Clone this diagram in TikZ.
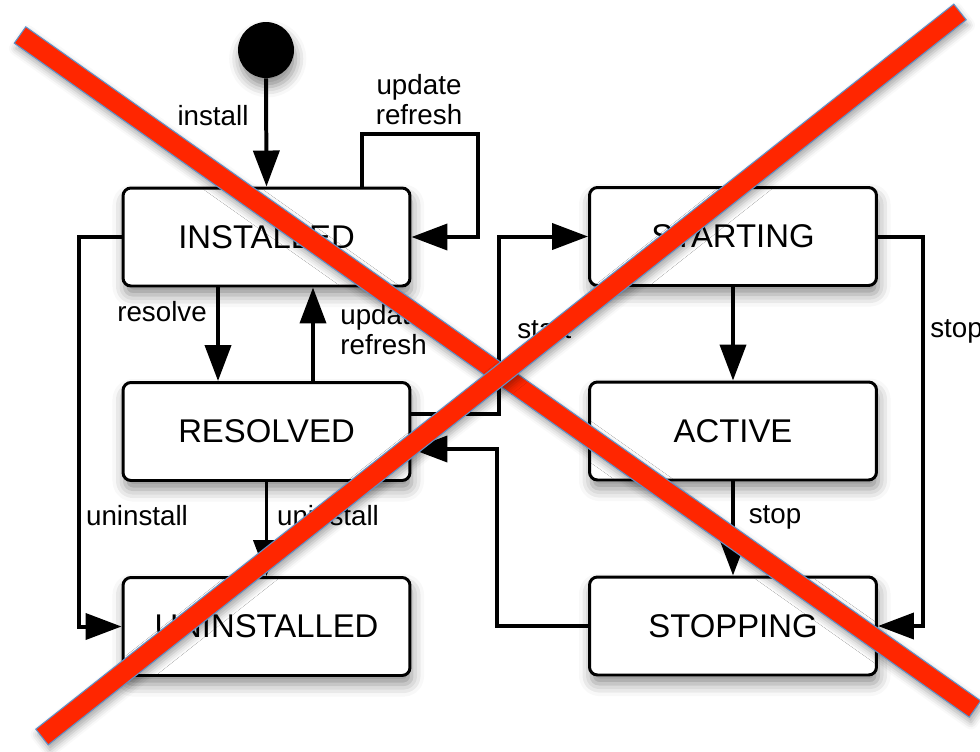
\documentclass[tikz,border=0pt]{standalone}
\usepackage{fontspec}
\setmainfont{Liberation Sans}
\usetikzlibrary{arrows.meta,calc,shadows.blur}
\definecolor{xred}{RGB}{255,38,0}
\definecolor{xblue}{RGB}{95,145,200}
\begin{document}
\begin{tikzpicture}[x=0.02cm,y=-0.02cm,
  state/.style={draw=black,line width=1.7pt,rounded corners=4.5pt,fill=white,
    minimum width=5.74cm,minimum height=1.96cm,inner sep=0pt,
    font=\fontsize{18.7}{22}\selectfont,
    blur shadow={shadow xshift=1pt,shadow yshift=-5pt,shadow blur radius=7pt,shadow opacity=45}},
  conn/.style={line width=2.27pt,-{Triangle[length=0.72cm,width=0.52cm]}},
  lbl/.style={inner sep=0pt,font=\fontsize{15.8}{17}\selectfont},
  xbar/.style={fill=xred,draw=xblue,line width=0.6pt,
    blur shadow={shadow xshift=1pt,shadow yshift=-3pt,shadow blur radius=4pt,shadow opacity=35}},
]
\useasboundingbox (0,0) rectangle (980,751);

% states
\node[circle,fill=black,minimum size=1.12cm,inner sep=0pt,
  blur shadow={shadow xshift=1pt,shadow yshift=-5pt,shadow blur radius=6pt,shadow opacity=45}] (init) at (266,50) {};
\node[state] (inst) at (266.5,237) {INSTALLED};
\node[state] (res) at (266.5,431.5) {RESOLVED};
\node[state] (uninst) at (266.5,626.5) {UNINSTALLED};
\node[state] (start) at (733,236.5) {STARTING};
\node[state] (active) at (733,431) {ACTIVE};
\node[state] (stopping) at (733,626) {STOPPING};

% connectors
\draw[conn] (init.south) -- (inst.north);
\draw[conn] ([xshift=1.91cm]inst.north) -- ++(0,-53) -- ++(116,0) |- (inst.east);
\draw[conn] ([xshift=-0.97cm]inst.south) -- ([xshift=-0.97cm]res.north);
\draw[conn] ([xshift=0.93cm]res.north) -- ([xshift=0.93cm]inst.south);
\draw[conn] (inst.west) -- ++(-43,0) |- (uninst.west);
\draw[conn] (res.south) -- (uninst.north);
\draw[conn] ([yshift=0.35cm]res.east) -- ++(88,0) |- (start.west);
\draw[conn] (stopping.west) -- ++(-91,0) |- ([yshift=-0.35cm]res.east);
\draw[conn] (start.south) -- (active.north);
\draw[conn] (active.south) -- (stopping.north);
\draw[conn] (start.east) -- ++(45,0) |- (stopping.east);

% labels
\node[lbl] (linstall) at (213,116) {install};
\node[lbl,align=center] (lupd1) at (419,100) {update\\refresh};
\node[lbl] (lresolve) at (162,312) {resolve};
\node[lbl,align=left,anchor=west] (lupd2) at (340,330) {update\\refresh};
\node[lbl] (lun1) at (137,516) {uninstall};
\node[lbl] (lun2) at (328,516) {uninstall};
\node[lbl,anchor=west] (lstart) at (517,330) {start};
\node[lbl,anchor=west] (lstop1) at (930,331) {stop};
\node[lbl] (lstop2) at (775,517) {stop};

% red cross
\coordinate (a1) at (20,35);
\coordinate (b1) at (975,709);
\coordinate (a2) at (42,737);
\coordinate (b2) at (960,12);
\path[xbar] ($(a1)!0.2cm!90:(b1)$) -- ($(a1)!0.2cm!-90:(b1)$) -- ($(b1)!0.2cm!90:(a1)$) -- ($(b1)!0.2cm!-90:(a1)$) -- cycle;
\path[xbar] ($(a2)!0.2cm!90:(b2)$) -- ($(a2)!0.2cm!-90:(b2)$) -- ($(b2)!0.2cm!90:(a2)$) -- ($(b2)!0.2cm!-90:(a2)$) -- cycle;
\end{tikzpicture}
\end{document}
